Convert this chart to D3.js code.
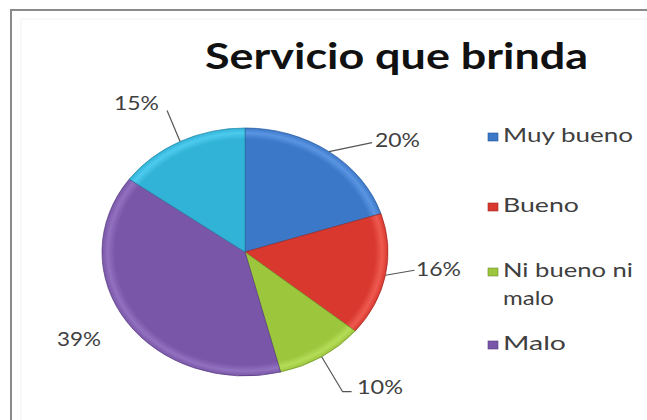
<!DOCTYPE html>
<html><head><meta charset="utf-8">
<script src="https://cdn.jsdelivr.net/npm/d3@7"></script>
<style>html,body{margin:0;padding:0;background:#fff;}svg{display:block;}</style>
</head><body>
<svg id="c" width="647" height="420"></svg>
<script>
// ---- data ----
const categories = ["Muy bueno", "Bueno", "Ni bueno ni malo", "Malo", "Otro"];
const values = [20, 16, 10, 39, 15];
const legendLabels = [["Muy bueno"], ["Bueno"], ["Ni bueno ni", "malo"], ["Malo"]];
const title = "Servicio que brinda";

// ---- style / layout ----
const colors = ["#3b78c8", "#d9382f", "#9cc63c", "#7a56a8", "#31b2d7"];
const lightColors = ["#5a95e2", "#ee5a50", "#b5dc57", "#9171c0", "#4ccbee"];
const darkColors = ["#24559a", "#9e2720", "#6f9228", "#563b7d", "#1f83a3"];
const cx = 245, cy = 252, rx = 143, ry = 124;
const labelLayout = [
  {pts: [[43, -9]], tx: 375, ty: 147, line: true, tw: 45},
  {pts: [[29, -5]], tx: 416, ty: 276, line: true, tw: 45},
  {pts: [[21, 35], [30, 35]], tx: 357, ty: 394, line: true, tw: 46},
  {pts: [], tx: 57, ty: 346, line: false, tw: 44},
  {pts: [[-13, -31]], tx: 114, ty: 110, line: true, tw: 45}
];

const svg = d3.select("#c");
const defs = svg.append("defs");

// frame
svg.append("path").attr("d", "M11,420 L11,10 L647,10").attr("fill", "none")
  .attr("stroke", "#8a8a8a").attr("stroke-width", 2);
svg.append("path").attr("d", "M21,420 L21,19 L647,19").attr("fill", "none")
  .attr("stroke", "#f2f2f2").attr("stroke-width", 1);

// title
svg.append("text").text(title)
  .attr("x", 205).attr("y", 69)
  .attr("font-family", "Lato, 'Open Sans', sans-serif").attr("font-weight", 700)
  .attr("font-size", 36).attr("fill", "#111")
  .attr("textLength", 383).attr("lengthAdjust", "spacingAndGlyphs");

// gradients
colors.forEach((c, i) => {
  const g = defs.append("radialGradient").attr("id", "g" + i)
    .attr("gradientUnits", "userSpaceOnUse").attr("cx", 0).attr("cy", 0).attr("r", rx);
  g.append("stop").attr("offset", "0%").attr("stop-color", c);
  g.append("stop").attr("offset", "91%").attr("stop-color", c);
  g.append("stop").attr("offset", "96%").attr("stop-color", lightColors[i]);
  g.append("stop").attr("offset", "100%").attr("stop-color", c);
});

const pie = d3.pie().sort(null).value(d => d)(values);
const arc = d3.arc().innerRadius(0).outerRadius(rx);
const gPie = svg.append("g").attr("transform", `translate(${cx},${cy}) scale(1,${ry / rx})`);
gPie.selectAll("path").data(pie).join("path")
  .attr("d", arc)
  .attr("fill", (d, i) => `url(#g${i})`)
  .attr("stroke", (d, i) => darkColors[i])
  .attr("stroke-opacity", 0.7)
  .attr("stroke-width", 1)
  .attr("vector-effect", "non-scaling-stroke");

// labels + leaders
const total = d3.sum(values);
pie.forEach((d, i) => {
  const a = (d.startAngle + d.endAngle) / 2;
  const ex = cx + rx * Math.sin(a), ey = cy - ry * Math.cos(a);
  const L = labelLayout[i];
  if (L.line) {
    const pts = [[ex, ey]].concat(L.pts.map(p => [ex + p[0], ey + p[1]]));
    svg.append("path").attr("d", d3.line()(pts)).attr("fill", "none")
      .attr("stroke", "#555").attr("stroke-width", 1.2);
  }
  svg.append("text").text(Math.round(values[i] / total * 100) + "%")
    .attr("x", L.tx).attr("y", L.ty)
    .attr("font-family", "Lato, 'Open Sans', sans-serif").attr("font-size", 20)
    .attr("fill", "#404040")
    .attr("textLength", L.tw).attr("lengthAdjust", "spacingAndGlyphs");
});

// legend
const legendY = [142, 212, 277, 350];
const legendW = [[130], [76], [130, 51], [63]];
const lg = svg.append("g");
legendLabels.forEach((lines, i) => {
  lg.append("rect").attr("x", 488).attr("y", legendY[i] - 9).attr("width", 10).attr("height", 8)
    .attr("fill", colors[i]).attr("stroke", darkColors[i]).attr("stroke-width", 0.6);
  lines.forEach((t, j) => {
    lg.append("text").text(t).attr("x", 503).attr("y", legendY[i] + j * 28)
      .attr("font-family", "Lato, 'Open Sans', sans-serif").attr("font-size", 20)
      .attr("fill", "#404040")
      .attr("textLength", legendW[i][j]).attr("lengthAdjust", "spacingAndGlyphs");
  });
});
</script>
</body></html>
